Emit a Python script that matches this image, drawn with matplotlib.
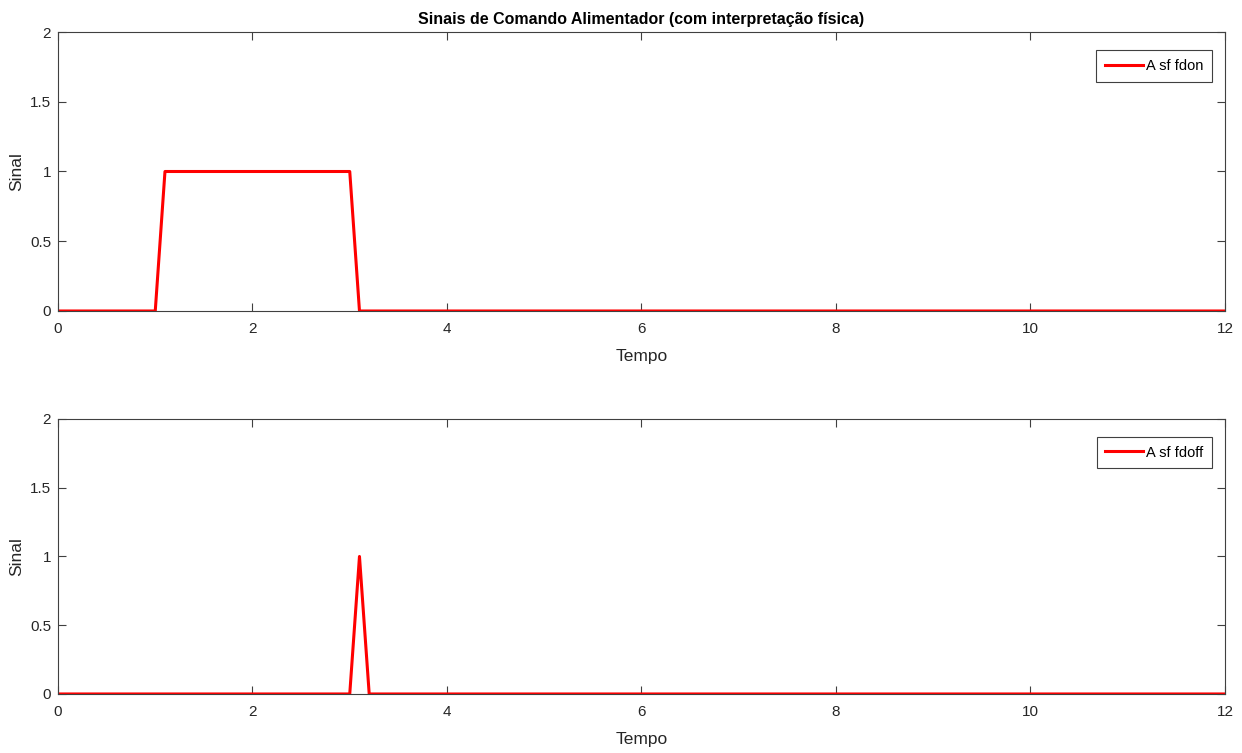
import matplotlib

matplotlib.use("Agg")
import matplotlib.pyplot as plt  # noqa: E402

# breakpoints
t_fdon = [0, 1.0, 1.1, 3.0, 3.1, 12]
fdon = [0, 0, 1, 1, 0, 0]
t_fdoff = [0, 3.0, 3.1, 3.2, 12]
fdoff = [0, 0, 1, 0, 0]

xticks = [0, 2, 4, 6, 8, 10, 12]
yticks = [0, 0.5, 1, 1.5, 2]
ytick_labels = ["0", "0.5", "1", "1.5", "2"]

plt.rcParams["font.family"] = ["Liberation Sans", "DejaVu Sans"]

GRAY = "#262626"
TICK = "#404040"

fig = plt.figure(figsize=(12.42, 7.53), dpi=100)
ax1 = fig.add_axes([0.0467, 0.587, 0.9396, 0.3705])
ax2 = fig.add_axes([0.0467, 0.0784, 0.9396, 0.3652])

for ax, t, y, name in [(ax1, t_fdon, fdon, "A sf fdon"), (ax2, t_fdoff, fdoff, "A sf fdoff")]:
    ax.plot(t, y, color="#ff0000", lw=2.2, label=name)
    ax.set_xlim(0, 12)
    ax.set_ylim(0, 2)
    ax.set_xticks(xticks)
    ax.set_yticks(yticks)
    ax.set_yticklabels(ytick_labels)
    ax.tick_params(direction="in", top=True, right=True, length=6, width=0.8,
                   colors=TICK, labelcolor=GRAY, labelsize=11, pad=5)
    ax.tick_params(axis="x", pad=8)
    for s in ax.spines.values():
        s.set_color(TICK)
        s.set_linewidth(0.8)
    ax.set_xlabel("Tempo", fontsize=12.5, color=GRAY, labelpad=9)
    ax.set_ylabel("Sinal", fontsize=12.5, color=GRAY, labelpad=4)
    leg = ax.legend(loc="upper right", bbox_to_anchor=(0.989, 0.935), borderaxespad=0,
                    fontsize=10.5, fancybox=False, framealpha=1, edgecolor=TICK,
                    handlelength=2.6, borderpad=0.6, handletextpad=0.2)
    leg.get_frame().set_linewidth(0.8)
    for txt in leg.get_texts():
        txt.set_color("black")

ax1.set_title("Sinais de Comando Alimentador (com interpretação física)",
              fontsize=11.5, fontweight="bold", color="black", pad=6)

fig.savefig("out.png", dpi=100, facecolor="white")
